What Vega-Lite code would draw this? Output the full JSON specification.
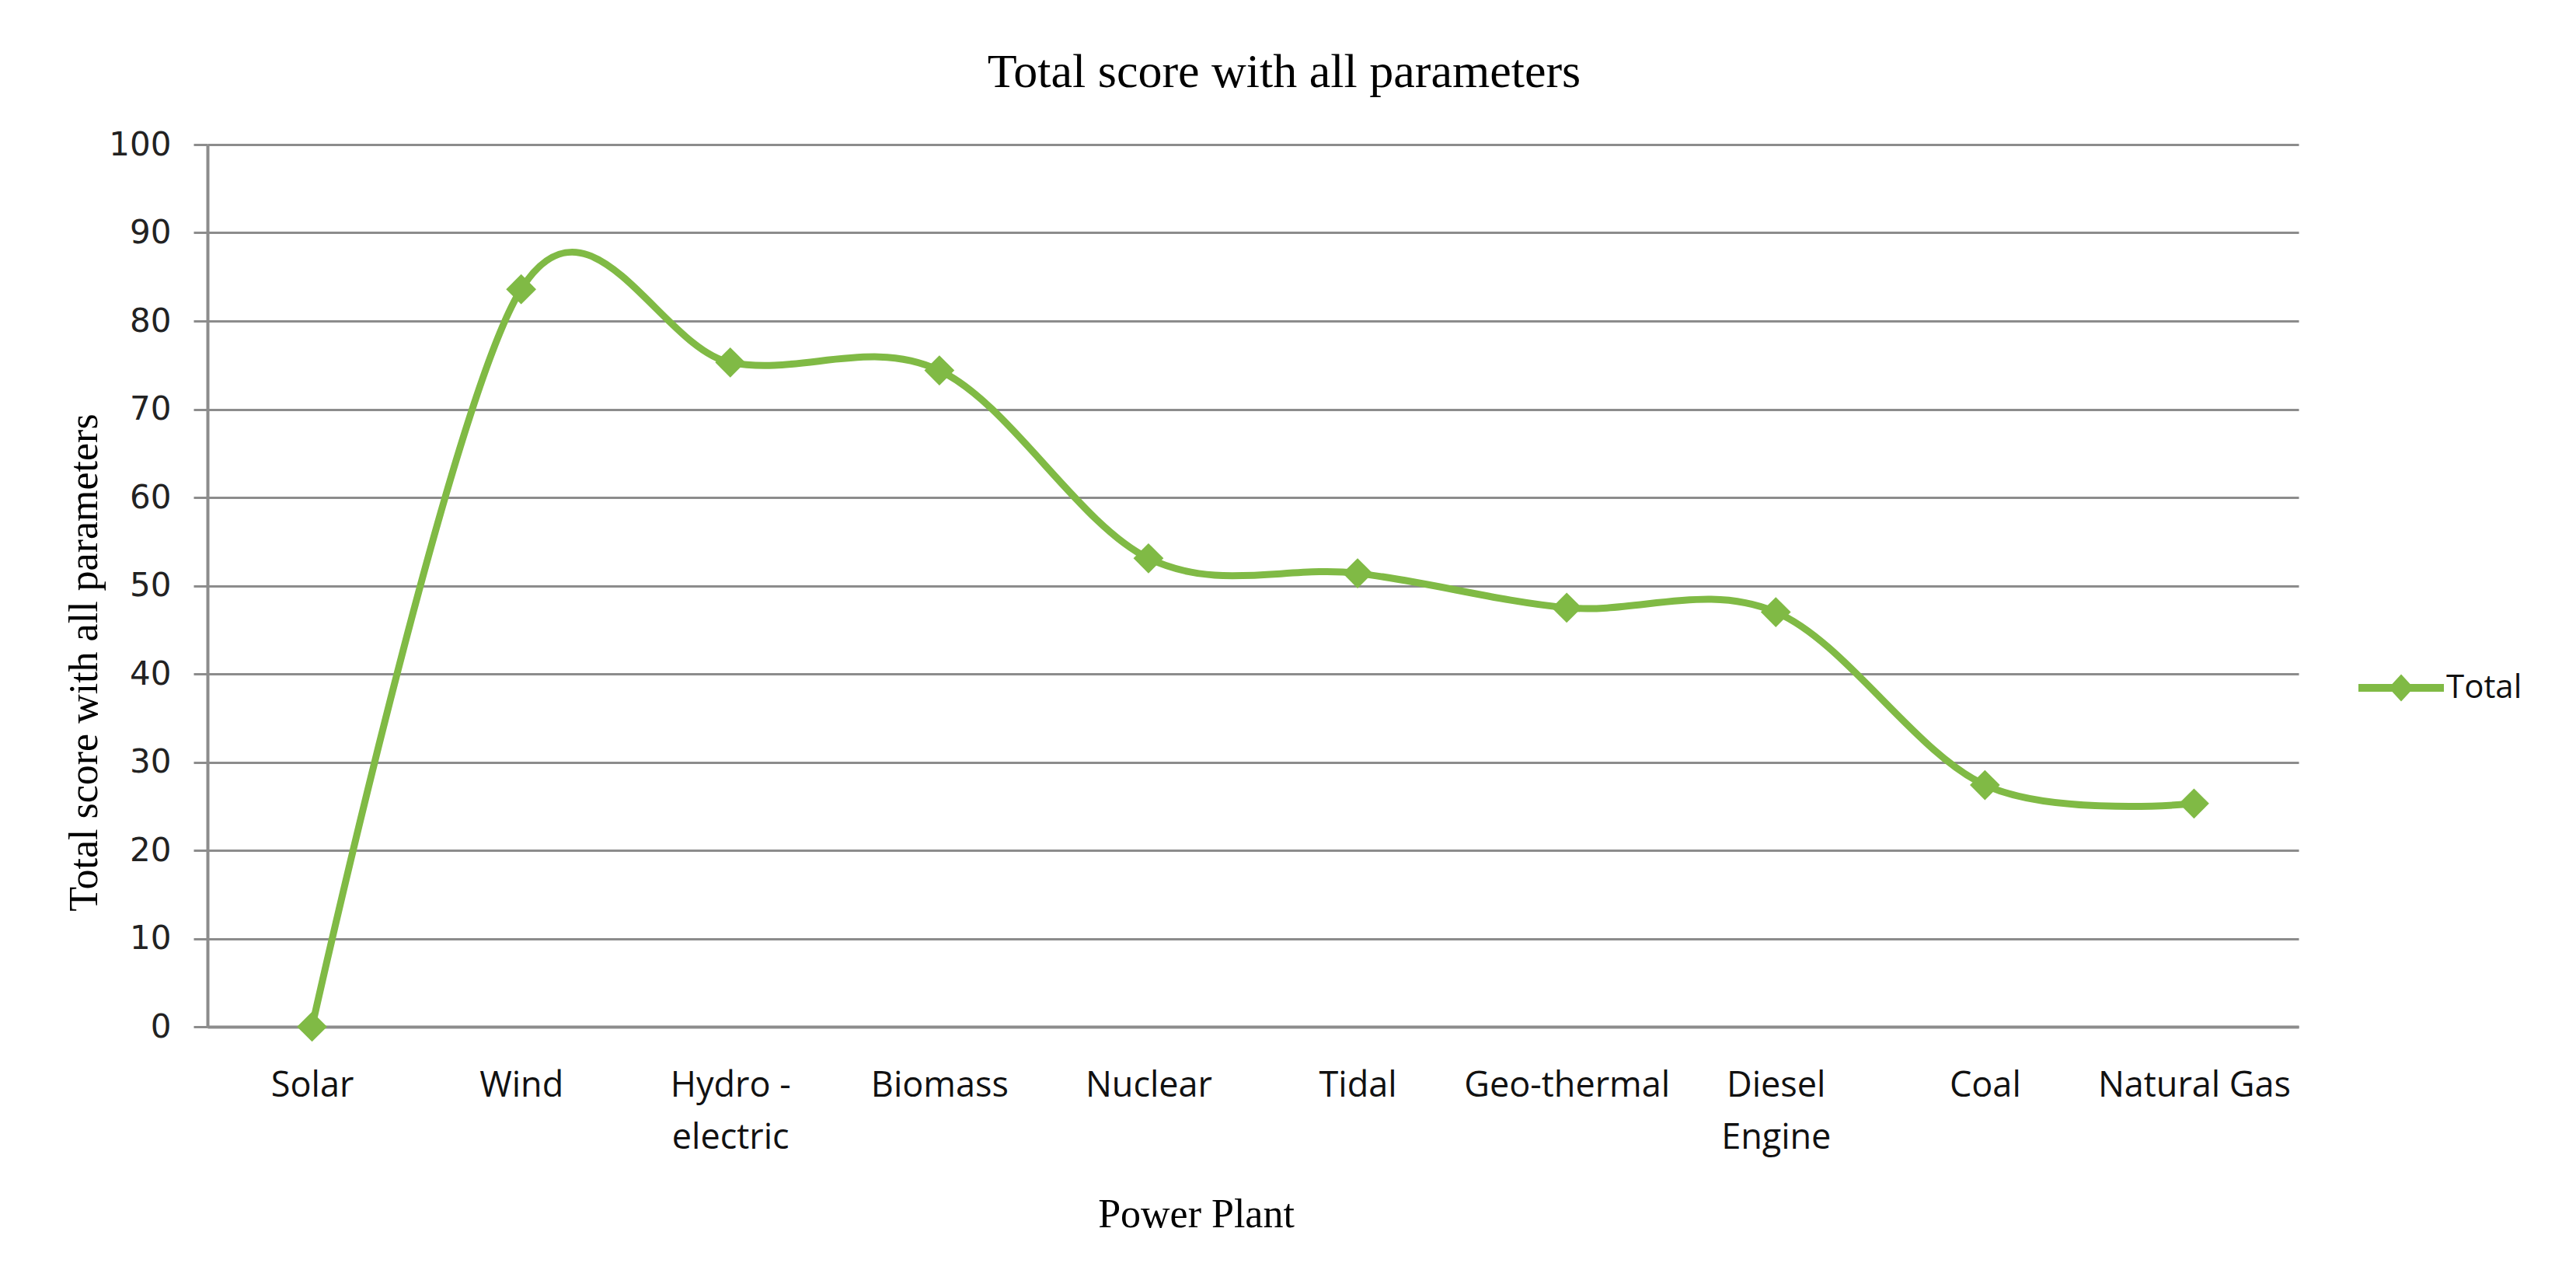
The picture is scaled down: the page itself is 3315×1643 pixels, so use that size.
{
  "$schema": "https://vega.github.io/schema/vega-lite/v6.json",
  "width": 2691,
  "height": 1135,
  "autosize": {"type": "none"},
  "padding": {"left": 267, "top": 186, "right": 357, "bottom": 322},
  "background": "white",
  "title": {
    "text": "Total score with all parameters",
    "font": "Liberation Serif",
    "fontSize": 62,
    "fontWeight": "normal",
    "color": "#000000",
    "anchor": "middle",
    "dx": 40,
    "offset": 40
  },
  "data": {
    "values": [
      {"plant": "Solar", "total": 0, "series": "Total"},
      {"plant": "Wind", "total": 83.6, "series": "Total"},
      {"plant": "Hydro - electric", "total": 75.3, "series": "Total"},
      {"plant": "Biomass", "total": 74.4, "series": "Total"},
      {"plant": "Nuclear", "total": 53.1, "series": "Total"},
      {"plant": "Tidal", "total": 51.4, "series": "Total"},
      {"plant": "Geo-thermal", "total": 47.5, "series": "Total"},
      {"plant": "Diesel Engine", "total": 47.0, "series": "Total"},
      {"plant": "Coal", "total": 27.4, "series": "Total"},
      {"plant": "Natural Gas", "total": 25.3, "series": "Total"}
    ]
  },
  "encoding": {
    "x": {
      "field": "plant",
      "type": "nominal",
      "sort": null,
      "scale": {"type": "point", "padding": 0.5},
      "axis": {
        "grid": false,
        "domainColor": "#8c8c8c",
        "domainWidth": 4,
        "ticks": false,
        "tickSize": 0,
        "labelAngle": 0,
        "labelFont": "Open Sans",
        "labelFontSize": 45,
        "labelColor": "#111111",
        "labelBaseline": "alphabetic",
        "labelPadding": 89,
        "labelLineHeight": 67,
        "labelLimit": 500,
        "labelOverlap": false,
        "labelExpr": "datum.value == 'Hydro - electric' ? ['Hydro -', 'electric'] : datum.value == 'Diesel Engine' ? ['Diesel', 'Engine'] : datum.label",
        "title": "Power Plant",
        "titleFont": "Liberation Serif",
        "titleFontSize": 52,
        "titleFontWeight": "normal",
        "titleColor": "#000000",
        "titleX": 1272,
        "titleY": 241,
        "titleAlign": "center",
        "titleBaseline": "middle"
      }
    },
    "y": {
      "field": "total",
      "type": "quantitative",
      "scale": {"domain": [0, 100], "nice": false},
      "axis": {
        "values": [0, 10, 20, 30, 40, 50, 60, 70, 80, 90, 100],
        "grid": true,
        "gridColor": "#8c8c8c",
        "gridWidth": 3,
        "domainColor": "#8c8c8c",
        "domainWidth": 4,
        "tickColor": "#8c8c8c",
        "tickWidth": 3,
        "tickSize": 18,
        "labelFont": "DejaVu Sans",
        "labelFontSize": 42,
        "labelColor": "#222222",
        "labelPadding": 29,
        "labelLimit": 300,
        "title": "Total score with all parameters",
        "titleFont": "Liberation Serif",
        "titleFontSize": 52,
        "titleFontWeight": "normal",
        "titleColor": "#000000",
        "titleX": -159,
        "titleY": 666,
        "titleAngle": 270,
        "titleAlign": "center",
        "titleBaseline": "middle"
      }
    }
  },
  "layer": [
    {
      "mark": {"type": "line", "interpolate": "cardinal", "color": "#80ba45", "strokeWidth": 9}
    },
    {
      "mark": {"type": "point", "shape": "diamond", "filled": true, "size": 1500, "opacity": 1},
      "encoding": {
        "color": {
          "field": "series",
          "type": "nominal",
          "scale": {"range": ["#80ba45"]},
          "legend": {
            "title": null,
            "orient": "none",
            "legendX": 2768,
            "legendY": 644,
            "padding": 0,
            "symbolType": "M-1,-0.09L-0.21,-0.09L0,-0.32L0.21,-0.09L1,-0.09L1,0.09L0.21,0.09L0,0.32L-0.21,0.09L-1,0.09Z",
            "symbolSize": 12100,
            "symbolStrokeWidth": 0,
            "symbolOpacity": 1,
            "labelFont": "Open Sans",
            "labelFontSize": 42,
            "labelColor": "#111111",
            "labelOffset": 3,
            "labelLimit": 300
          }
        }
      }
    }
  ],
  "config": {"view": {"stroke": null}}
}
